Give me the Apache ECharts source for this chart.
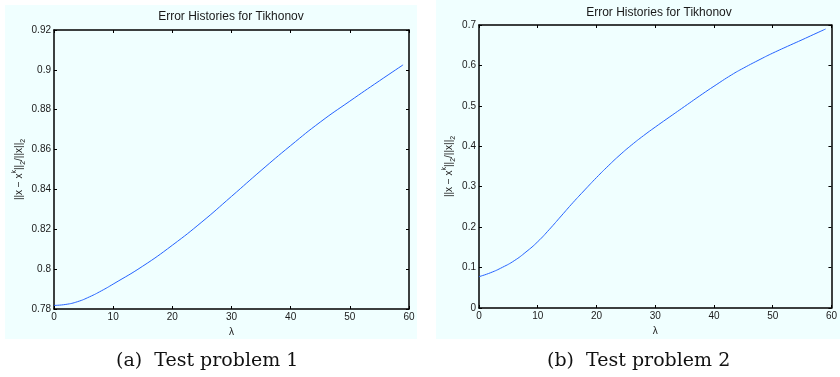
<!DOCTYPE html>
<html>
<head>
<meta charset="utf-8">
<script src="https://cdn.jsdelivr.net/npm/echarts@6/dist/echarts.min.js"></script>
<style>
  html, body { margin: 0; padding: 0; background: #ffffff; }
  #chart { width: 840px; height: 377px; }
</style>
</head>
<body>
<div id="chart"></div>
<script>
// Test problem 1: relative error vs. regularisation parameter
const lambda1 = [0, 2, 4, 6, 8, 10, 15, 20, 25, 30, 35, 40, 45, 50, 55, 59];
const error1 = [0.7818, 0.7823, 0.7837, 0.7861, 0.7891, 0.7925, 0.8015, 0.8120, 0.8237, 0.8365,
                0.8495, 0.8620, 0.8738, 0.8843, 0.8945, 0.9025];

// Test problem 2
const lambda2 = [0, 2, 4, 6, 8, 10, 12, 14, 16, 18, 20, 22, 24, 26, 28, 30, 32, 35, 38, 40,
                 43, 45, 48, 50, 53, 55, 57, 59];
const error2 = [0.0775, 0.0874, 0.1007, 0.1170, 0.1386, 0.1640, 0.1947, 0.2277, 0.2607, 0.2920,
                0.3226, 0.3515, 0.3787, 0.4035, 0.4262, 0.4475, 0.4680, 0.4985, 0.5290, 0.5485,
                0.5767, 0.5932, 0.6160, 0.6304, 0.6504, 0.6634, 0.6768, 0.6900];

const yTicks1 = { min: 0.78, max: 0.92, interval: 0.02 };
const yTicks2 = { min: 0, max: 0.7, interval: 0.1 };
const xTicks = { min: 0, max: 60, interval: 10 };

const panelTitle = 'Error Histories for Tikhonov';
const xName = 'λ';
const captions = ['(a)  Test problem 1', '(b)  Test problem 2'];

const FONT = 'Liberation Sans, Arial, sans-serif';
const INK = '#1a1a1a';
const PANEL_BG = '#f0ffff';
const LINE = '#2563ff';
const FRAME = { color: '#000', width: 1.5 };

const yNameRich = '{n|||x − x}{sup|k}{n|||}{sub|2}{n|/||x||}{sub|2}';
const richStyles = {
  n:   { fontSize: 10, fontFamily: FONT, color: INK, lineHeight: 16, verticalAlign: 'middle' },
  sup: { fontSize: 7,  fontFamily: FONT, color: INK, lineHeight: 16, verticalAlign: 'top' },
  sub: { fontSize: 7,  fontFamily: FONT, color: INK, lineHeight: 16, verticalAlign: 'bottom' }
};

function xAxes(gridIndex) {
  const common = {
    type: 'value', gridIndex, min: xTicks.min, max: xTicks.max, interval: xTicks.interval,
    splitLine: { show: false },
    axisLine: { show: true, onZero: false, lineStyle: FRAME },
    axisTick: { show: true, inside: true, length: 3, lineStyle: { color: '#000' } }
  };
  return [
    Object.assign({}, common, {
      position: 'bottom',
      axisLabel: { fontFamily: FONT, fontSize: 10, color: INK, margin: 3 },
      name: xName, nameLocation: 'middle', nameGap: 13,
      nameTextStyle: { fontFamily: FONT, fontSize: 10, color: INK }
    }),
    Object.assign({}, common, { position: 'top', axisLabel: { show: false } })
  ];
}

function yAxes(gridIndex, ticks, nameGap) {
  const common = {
    type: 'value', gridIndex, min: ticks.min, max: ticks.max, interval: ticks.interval,
    splitLine: { show: false },
    axisLine: { show: true, onZero: false, lineStyle: FRAME },
    axisTick: { show: true, inside: true, length: 3, lineStyle: { color: '#000' } }
  };
  return [
    Object.assign({}, common, {
      position: 'left',
      axisLabel: { fontFamily: FONT, fontSize: 10, color: INK, margin: 3 },
      name: yNameRich, nameLocation: 'middle', nameRotate: 90, nameGap,
      nameTextStyle: { rich: richStyles }
    }),
    Object.assign({}, common, { position: 'right', axisLabel: { show: false } })
  ];
}

const chart = echarts.init(document.getElementById('chart'), null, { renderer: 'canvas' });

chart.setOption({
  animation: false,
  backgroundColor: '#ffffff',
  graphic: [
    { type: 'rect', z: -10, shape: { x: 5, y: 5, width: 412, height: 334 }, style: { fill: PANEL_BG } },
    { type: 'rect', z: -10, shape: { x: 436, y: 0, width: 404, height: 339 }, style: { fill: PANEL_BG } },
    { type: 'text', left: 116, top: 352,
      style: { text: captions[0], font: '19px "DejaVu Serif", serif', fill: '#111' } },
    { type: 'text', left: 547, top: 352,
      style: { text: captions[1], font: '19px "DejaVu Serif", serif', fill: '#111' } }
  ],
  title: [
    { text: panelTitle, left: 231, top: 11, textAlign: 'center',
      textStyle: { fontFamily: FONT, fontSize: 12, fontWeight: 'normal', color: INK }, padding: 0 },
    { text: panelTitle, left: 659, top: 7, textAlign: 'center',
      textStyle: { fontFamily: FONT, fontSize: 12, fontWeight: 'normal', color: INK }, padding: 0 }
  ],
  grid: [
    { left: 54, top: 30, width: 355, height: 279, show: false },
    { left: 479, top: 25, width: 360, height: 283, show: false }
  ],
  xAxis: [].concat(xAxes(0), xAxes(1)),
  yAxis: [].concat(yAxes(0, yTicks1, 27), yAxes(1, yTicks2, 22)),
  series: [
    {
      type: 'line', xAxisIndex: 0, yAxisIndex: 0, smooth: true, showSymbol: false,
      lineStyle: { color: LINE, width: 1 },
      data: lambda1.map((l, i) => [l, error1[i]])
    },
    {
      type: 'line', xAxisIndex: 2, yAxisIndex: 2, smooth: true, showSymbol: false,
      lineStyle: { color: LINE, width: 1 },
      data: lambda2.map((l, i) => [l, error2[i]])
    }
  ]
});
</script>
</body>
</html>
